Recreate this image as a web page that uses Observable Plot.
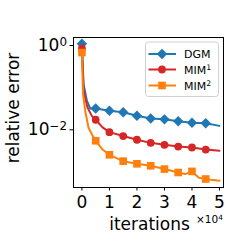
<!DOCTYPE html>
<html><head><meta charset="utf-8">
<script src="https://cdn.jsdelivr.net/npm/d3@7"></script>
<script src="https://cdn.jsdelivr.net/npm/@observablehq/plot@0.6"></script>
<style>body{margin:0;background:#fff} svg{font-family:"DejaVu Sans",sans-serif}</style>
</head><body><div id="chart"></div>
<script>
const seriesNames = ["DGM", "MIM", "MIM"];
const seriesSup = ["", "1", "2"];
const seriesColors = ["#1f77b4", "#d62728", "#ff7f0e"];
const seriesSymbols = ["diamond2", "circle", "square"];
const seriesR = [4.7, 3.9, 4.3];

// iterations (×10^4) and relative error
const dgmX = [0, 0.06, 0.18, 0.3, 0.5, 1, 1.5, 2, 2.5, 3, 3.5, 4, 4.5, 5];
const dgmY = [1.1, 0.12, 0.049, 0.032, 0.032, 0.0283, 0.026, 0.0215, 0.0185, 0.0177, 0.0159, 0.0147, 0.0143, 0.0124];
const mim1X = [0, 0.06, 0.2, 0.36, 0.5, 0.75, 1, 1.5, 2, 2.5, 3, 3.5, 4, 4.5, 5];
const mim1Y = [0.85, 0.085, 0.034, 0.0214, 0.0173, 0.0114, 0.0088, 0.0071, 0.0058, 0.0049, 0.0044, 0.0040, 0.0038, 0.0034, 0.0032];
const mim2X = [0, 0.04, 0.12, 0.24, 0.42, 0.5, 0.75, 1, 1.5, 2, 2.5, 3, 3.5, 3.75, 4, 4.25, 4.5, 4.75, 5];
const mim2Y = [0.68, 0.071, 0.028, 0.0112, 0.0066, 0.0055, 0.0034, 0.00255, 0.0018, 0.00156, 0.0014, 0.00117, 0.00097, 0.00089, 0.00103, 0.00073, 0.00068, 0.00064, 0.00062];
const markerIters = [0, 0.5, 1, 1.5, 2, 2.5, 3, 3.5, 4, 4.5];

const xTicks = [0, 1, 2, 3, 4, 5];
const yTicks = [1, 0.01];
const yTickExp = ["0", "−2"];

const series = [[dgmX, dgmY], [mim1X, mim1Y], [mim2X, mim2Y]].map(([xs, ys], i) =>
  xs.map((x, j) => ({x, y: ys[j], s: seriesNames[i] + seriesSup[i]})));

const marks = [];
series.forEach((pts, i) => {
  marks.push(Plot.line(pts, {x: "x", y: "y", stroke: seriesColors[i], strokeWidth: 2}));
  marks.push(Plot.dot(pts.filter(d => markerIters.includes(d.x)),
    {x: "x", y: "y", symbol: () => seriesSymbols[i], fill: seriesColors[i], stroke: "none", r: seriesR[i]}));
});

const plot = Plot.plot({
  width: 249, height: 249,
  marginLeft: 73, marginRight: 26, marginTop: 37, marginBottom: 62,
  style: {fontFamily: "DejaVu Sans", background: "white", overflow: "visible"},
  x: {domain: [-0.306, 5.146]},
  y: {type: "log", domain: [Math.pow(10, -3.369), Math.pow(10, 0.19)]},
  marks: [
    ...marks,
    Plot.frame({stroke: "black", strokeWidth: 1}),
    Plot.axisX({ticks: xTicks, tickSize: 3.5, tickPadding: 5, fontSize: 17, label: null,
      tickFormat: d => String(d)}),
    Plot.axisY({ticks: yTicks, tickSize: 3.5, tickPadding: 3, fontSize: 17, label: null,
      tickFormat: d => "10^" + yTickExp[yTicks.indexOf(d)]})
  ]
});
document.getElementById("chart").append(plot);

const svg = d3.select(plot);
// turn "10^e" tick labels into base + superscript
svg.selectAll("text").each(function () {
  const t = d3.select(this);
  const s = t.text();
  if (s.startsWith("10^")) {
    t.text("10");
    t.append("tspan").attr("dy", "-0.45em").attr("font-size", "70%").text(s.slice(3));
  }
});

svg.append("text").attr("transform", "translate(18.5,108) rotate(-90)")
  .attr("text-anchor", "middle").attr("font-size", 17).attr("fill", "black").text("relative error");
svg.append("text").attr("x", 149.5).attr("y", 230)
  .attr("text-anchor", "middle").attr("font-size", 17).attr("fill", "black").text("iterations");
const mult = svg.append("text").attr("x", 196).attr("y", 223).attr("text-anchor", "start")
  .attr("font-size", 10.5).attr("fill", "black");
mult.append("tspan").text("×10");
mult.append("tspan").attr("dy", "-0.45em").attr("font-size", "70%").text("4");

const lg = svg.append("g");
lg.append("rect").attr("x", 145.5).attr("y", 42).attr("width", 73).attr("height", 54.5)
  .attr("rx", 3).attr("fill", "white").attr("fill-opacity", 0.8).attr("stroke", "#d0d0d0");
const rowY = [54, 69.5, 85.5];
seriesNames.forEach((name, i) => {
  lg.append("line").attr("x1", 148.5).attr("x2", 176).attr("y1", rowY[i]).attr("y2", rowY[i])
    .attr("stroke", seriesColors[i]).attr("stroke-width", 2);
  const sym = {diamond2: d3.symbolDiamond2, circle: d3.symbolCircle, square: d3.symbolSquare}[seriesSymbols[i]];
  lg.append("path").attr("d", d3.symbol(sym, Math.PI * seriesR[i] * seriesR[i])())
    .attr("transform", `translate(162,${rowY[i]})`).attr("fill", seriesColors[i]);
  const tx = lg.append("text").attr("x", 184).attr("y", rowY[i] + 4).attr("text-anchor", "start")
    .attr("font-size", 11).attr("fill", "black");
  tx.append("tspan").text(name);
  if (seriesSup[i]) tx.append("tspan").attr("dy", "-0.45em").attr("font-size", "70%").text(seriesSup[i]);
});
</script></body></html>
